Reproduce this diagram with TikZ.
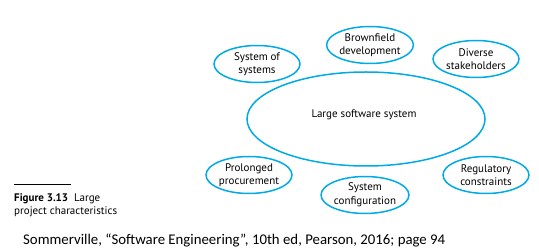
\documentclass[tikz,border=0pt]{standalone}
\usepackage{fontspec}
\setmainfont{PT Sans}
\newfontfamily\credfont{Carlito}
\usepackage{xcolor}
\usetikzlibrary{shapes.geometric}
\definecolor{bubbleblue}{RGB}{0,170,230}

\begin{document}
\begin{tikzpicture}[x=1pt, y=-1pt,
  every node/.style={font=\fontsize{11}{13.5}\selectfont},
  trait/.style={ellipse, draw=bubbleblue, line width=1.5pt, minimum width=86pt, minimum height=37pt, inner sep=0pt, align=center}]
\useasboundingbox (0,0) rectangle (539,248);
% central system
\node[ellipse, draw=bubbleblue, line width=1.5pt, minimum width=238pt, minimum height=94pt, inner sep=0pt] (core) at (366,119) {};
\node (corelabel) at (364,115) {Large software system};
% characteristics around it
\node[trait] (sos) at (257,64) {System of\\systems};
\node[trait] (brown) at (370,45) {Brownfield\\development};
\node[trait] (diverse) at (476,59) {Diverse\\stakeholders};
\node[trait] (prolonged) at (249,175) {Prolonged\\procurement};
\node[trait] (config) at (365,195) {System\\configuration};
\node[trait] (regul) at (486,175) {Regulatory\\constraints};
% caption
\coordinate (ruleL) at (14,184);
\coordinate (ruleR) at (71,184);
\draw[line width=0.8pt] (ruleL) -- (ruleR);
\node[anchor=north west, align=left, inner sep=0pt, font=\fontsize{11}{13}\selectfont] (cap) at (14,193) {\textbf{Figure 3.13}\ \ Large\\project characteristics};
% credit line
\node[anchor=west, inner sep=0pt, font=\credfont\fontsize{14.8}{16}\selectfont] (cred) at (23,240) {Sommerville, “Software Engineering”, 10th ed, Pearson, 2016; page 94};
\end{tikzpicture}
\end{document}
